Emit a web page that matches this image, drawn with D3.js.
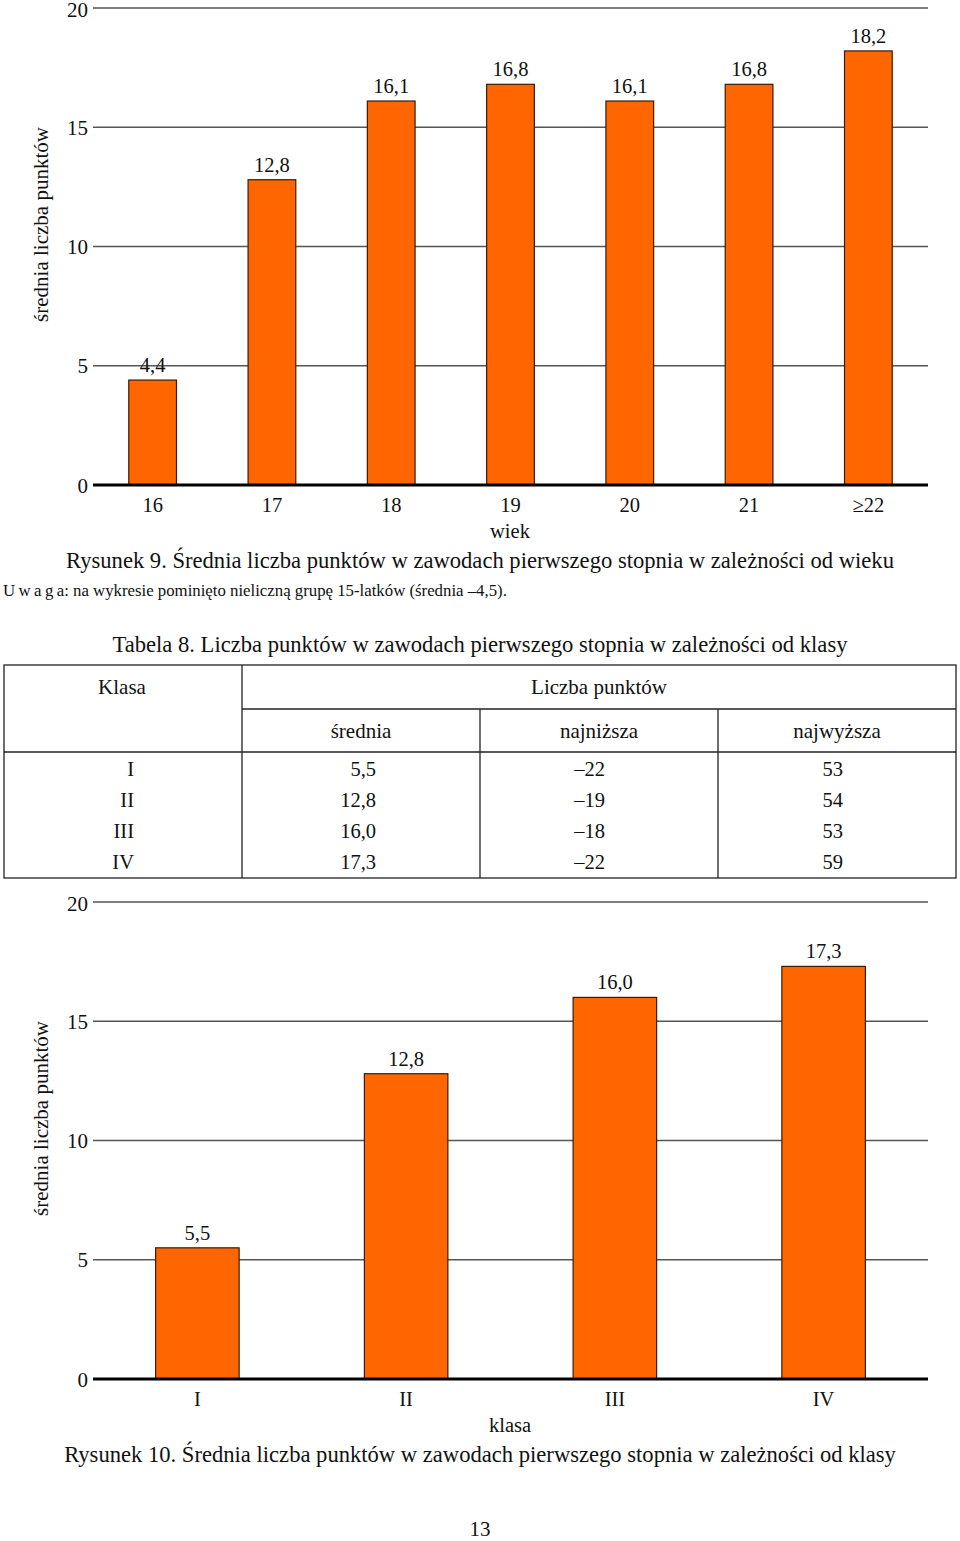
<!DOCTYPE html>
<html><head><meta charset="utf-8">
<script src="https://cdn.jsdelivr.net/npm/d3@7"></script>
<style>body{margin:0;background:#fff}svg{display:block}text{font-family:"Liberation Serif","Times New Roman",serif;fill:#111}</style>
</head><body><svg id="s" width="960" height="1541"></svg>
<script>
// Chart 1 data
const ageCategories = ["16","17","18","19","20","21","≥22"];
const ageMeans = [4.4, 12.8, 16.1, 16.8, 16.1, 16.8, 18.2];
const ageLabels = ["4,4","12,8","16,1","16,8","16,1","16,8","18,2"];
// Table data
const tableClasses = ["I","II","III","IV"];
const tableMeans = ["5,5","12,8","16,0","17,3"];
const tableMin = ["–22","–19","–18","–22"];
const tableMax = ["53","54","53","59"];
// Chart 2 data
const classCategories = ["I","II","III","IV"];
const classMeans = [5.5, 12.8, 16.0, 17.3];
const classLabels = ["5,5","12,8","16,0","17,3"];
const yTicks = [0,5,10,15,20];

const svg = d3.select("#s");

function barChart(top, bottom, cats, vals, labels, xTitle, caption, captionY) {
  const g = svg.append("g");
  const x = d3.scaleBand().domain(cats).range([93, 928]).paddingInner(0.6).paddingOuter(0.3);
  const y = d3.scaleLinear().domain([0, 20]).range([bottom, top]);
  g.selectAll("line.grid").data(yTicks.filter(d => d > 0)).join("line")
    .attr("x1", 93).attr("x2", 928).attr("y1", d => y(d)).attr("y2", d => y(d))
    .attr("stroke", "#555").attr("stroke-width", 1.6);
  g.selectAll("text.yt").data(yTicks).join("text")
    .attr("x", 88).attr("y", d => y(d) + (d === 20 ? 8.5 : 7.5)).attr("text-anchor", "end")
    .attr("font-size", 21).text(d => d);
  g.selectAll("rect").data(vals).join("rect")
    .attr("x", (d, i) => x(cats[i])).attr("width", x.bandwidth())
    .attr("y", d => y(d)).attr("height", d => bottom - y(d))
    .attr("fill", "#ff6600").attr("stroke", "#3a1a08").attr("stroke-width", 1.2);
  g.selectAll("text.vl").data(vals).join("text")
    .attr("x", (d, i) => x(cats[i]) + x.bandwidth() / 2).attr("y", d => y(d) - 8)
    .attr("text-anchor", "middle").attr("font-size", 20.5).text((d, i) => labels[i]);
  g.append("line").attr("x1", 93).attr("x2", 928).attr("y1", y(0)).attr("y2", y(0))
    .attr("stroke", "#000").attr("stroke-width", 3);
  g.selectAll("text.xt").data(cats).join("text")
    .attr("x", d => x(d) + x.bandwidth() / 2).attr("y", bottom + 27)
    .attr("text-anchor", "middle").attr("font-size", 20.5).text(d => d);
  g.append("text").attr("x", 510).attr("y", bottom + 53).attr("text-anchor", "middle")
    .attr("font-size", 20.5).text(xTitle);
  g.append("text").attr("transform", `translate(48,${(top + bottom) / 2 - 22}) rotate(-90)`)
    .attr("text-anchor", "middle").attr("font-size", 21).text("średnia liczba punktów");
  g.append("text").attr("x", 480).attr("y", captionY).attr("text-anchor", "middle")
    .attr("font-size", 22.6).text(caption);
}

barChart(8, 485, ageCategories, ageMeans, ageLabels, "wiek",
  "Rysunek 9. Średnia liczba punktów w zawodach pierwszego stopnia w zależności od wieku", 568);

const note = svg.append("text").attr("x", 3).attr("y", 596).attr("font-size", 16.8);
note.append("tspan").attr("letter-spacing", 3.4).text("Uwag");
note.append("tspan").text("a: na wykresie pominięto nieliczną grupę 15-latków (średnia –4,5).");

svg.append("text").attr("x", 480).attr("y", 652).attr("text-anchor", "middle")
  .attr("font-size", 22.6).text("Tabela 8. Liczba punktów w zawodach pierwszego stopnia w zależności od klasy");
const T = svg.append("g").attr("stroke", "#222").attr("stroke-width", 1.3);
const tl = (x1, y1, x2, y2) => T.append("line").attr("x1", x1).attr("y1", y1).attr("x2", x2).attr("y2", y2);
T.append("rect").attr("x", 4).attr("y", 665).attr("width", 952).attr("height", 213).attr("fill", "none");
tl(242, 665, 242, 878); tl(242, 709, 956, 709); tl(4, 752, 956, 752);
tl(480, 709, 480, 878); tl(718, 709, 718, 878);
const th = (x, y, t) => svg.append("text").attr("x", x).attr("y", y).attr("text-anchor", "middle").attr("font-size", 21).text(t);
th(122, 694, "Klasa"); th(599, 694, "Liczba punktów");
th(361, 738, "średnia"); th(599, 738, "najniższa"); th(837, 738, "najwyższa");
const rowY = [776, 807, 838, 869];
const cols = [[tableClasses, 134], [tableMeans, 376], [tableMin, 605], [tableMax, 843]];
cols.forEach(([arr, xr]) => {
  svg.selectAll(null).data(arr).join("text").attr("x", xr).attr("y", (d, i) => rowY[i])
    .attr("text-anchor", "end").attr("font-size", 20.5).text(d => d);
});

barChart(902, 1379, classCategories, classMeans, classLabels, "klasa",
  "Rysunek 10. Średnia liczba punktów w zawodach pierwszego stopnia w zależności od klasy", 1462);

svg.append("text").attr("x", 480).attr("y", 1536).attr("text-anchor", "middle").attr("font-size", 21).text("13");
</script></body></html>
